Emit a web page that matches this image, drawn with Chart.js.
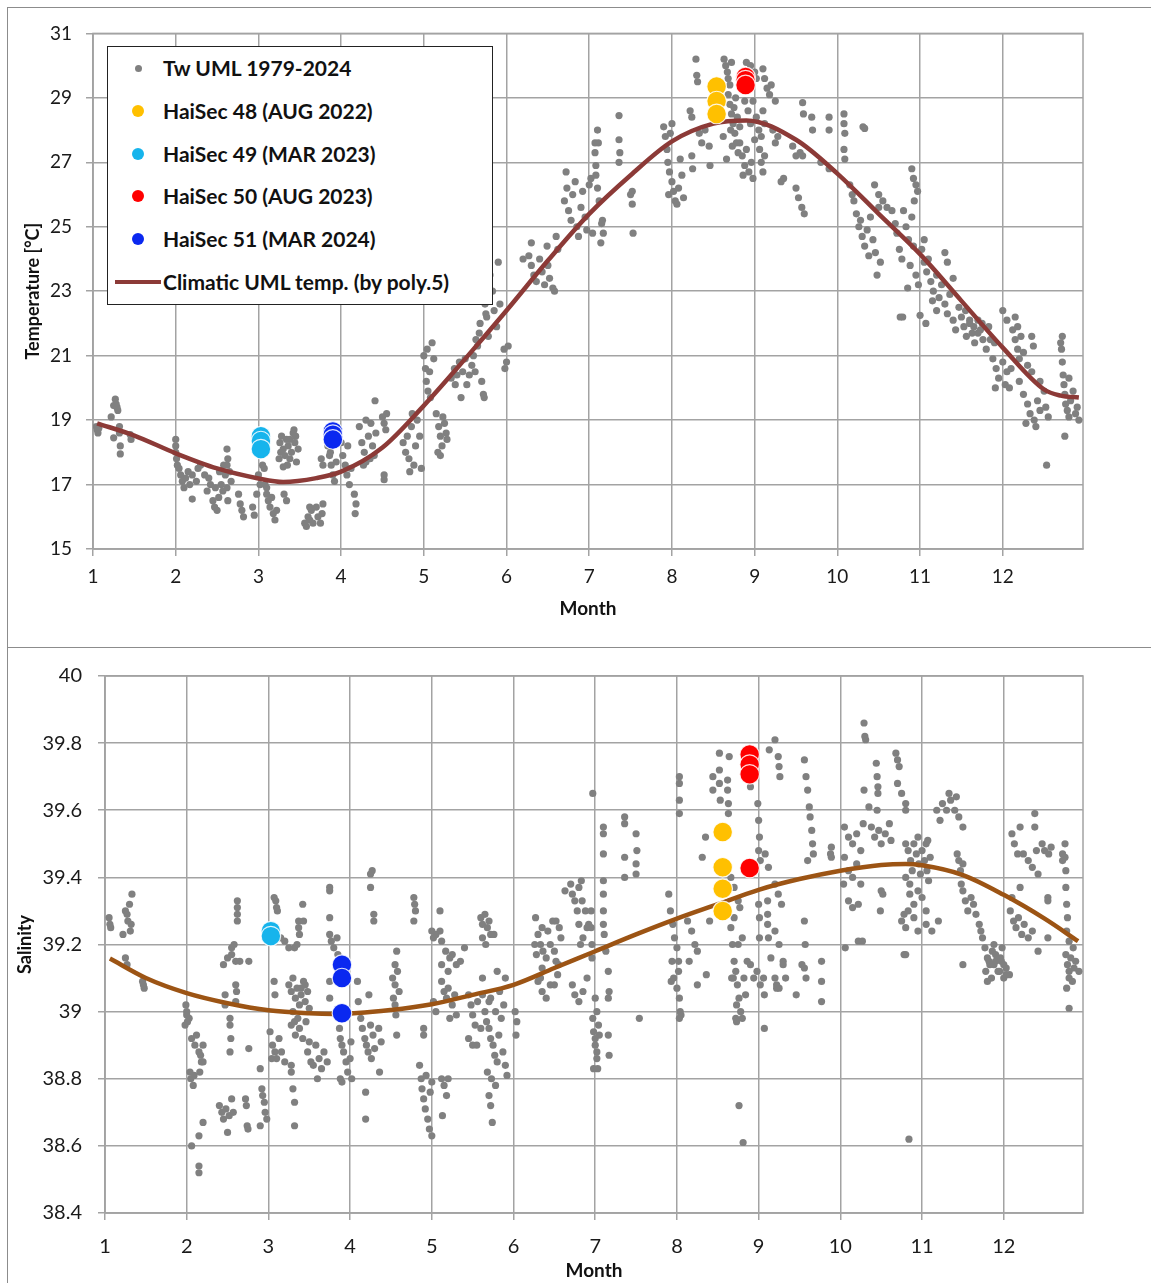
<!DOCTYPE html>
<html>
<head>
<meta charset="utf-8">
<script src="https://cdn.jsdelivr.net/npm/chart.js@4.4.1/dist/chart.umd.min.js"></script>
<style>
  body { margin: 0; background: #fff; width: 1151px; height: 1283px; overflow: hidden; position: relative; font-family: Lato, "Noto Sans", sans-serif; }
  .panel { position: absolute; left: 7px; width: 1160px; border: 1px solid #8c8c8c; box-sizing: border-box; }
  #panelTemp { top: 7px; height: 641px; }
  #panelSal { top: 647px; height: 700px; }
  .panel canvas { position: absolute; left: 0; top: 0; }
  #legend { position: absolute; left: 107px; top: 46px; width: 386px; height: 259px; border: 1.5px solid #222; box-sizing: border-box; background: #fff; }
  .item { position: absolute; left: 0; height: 26px; width: 380px; }
  .item span { position: absolute; left: 55px; top: 0; font: bold 21px Lato, sans-serif; color: #111; line-height: 26px; white-space: nowrap; }
  .dot { position: absolute; border-radius: 50%; }
  .bar { position: absolute; left: 7px; top: 11px; width: 46px; height: 4px; }
</style>
</head>
<body>
<div class="panel" id="panelTemp"><canvas id="tempChart" width="1143" height="639"></canvas></div>
<div class="panel" id="panelSal"><canvas id="salChart" width="1143" height="635"></canvas></div>
<div id="legend"></div>
<script>
// Tw UML 1979-2024, [month, temperature]
const tw1 = [[1.04,18.8],[1.05,18.7],[1.06,18.6],[1.07,18.75],[1.22,19.1],[1.25,19.45],[1.27,19.65],[1.28,19.5],[1.29,19.4],[1.3,19.3],[1.25,18.45],[1.32,18.8],[1.32,18.6],[1.33,18.2],[1.33,17.95],[1.45,18.55],[1.46,18.4]];
const tw2 = [[2.0,18.4],[2.0,18.2],[2.0,18.0],[2.01,17.8],[2.02,17.6],[2.04,17.5],[2.06,17.3],[2.08,17.1],[2.1,16.9],[2.12,17.2],[2.15,17.4],[2.17,17.0],[2.2,17.3],[2.2,16.55],[2.25,17.1],[2.27,17.5],[2.3,17.6],[2.4,17.2],[2.42,17.0],[2.45,16.5],[2.47,16.3],[2.5,16.2],[2.52,16.6],[2.55,17.0],[2.57,16.8],[2.6,17.3],[2.62,16.9],[2.63,16.5],[2.65,17.4],[2.67,17.1],[2.58,17.6],[2.53,17.4],[2.62,17.6],[2.63,17.8],[2.62,18.1],[2.76,16.7],[2.78,16.4],[2.8,16.2],[2.82,16.0],[2.93,16.3],[2.95,16.05],[2.48,16.9],[2.35,17.3],[2.38,16.8]];
const tw3 = [[3.0,17.3],[3.02,17.0],[2.98,16.7],[3.05,17.6],[3.07,17.5],[3.08,17.0],[3.1,16.7],[3.12,16.5],[3.14,16.3],[3.16,16.6],[3.18,16.1],[3.2,15.9],[3.22,16.2],[3.1,16.9],[3.26,18.3],[3.28,18.5],[3.3,18.1],[3.32,17.9],[3.34,18.4],[3.36,18.2],[3.38,17.8],[3.4,18.0],[3.42,18.6],[3.44,18.3],[3.46,17.7],[3.48,18.1],[3.35,17.6],[3.25,17.8],[3.3,17.55],[3.43,18.7],[3.31,16.7],[3.34,16.5],[3.56,15.8],[3.58,15.7],[3.6,16.0],[3.62,15.9],[3.64,16.2],[3.66,15.8],[3.7,16.3],[3.72,16.0],[3.75,15.8],[3.77,16.1],[3.62,16.3],[3.78,16.4],[3.76,17.8],[3.78,17.6],[3.84,18.2],[3.86,17.9],[3.88,17.6],[3.9,17.3],[3.92,17.1],[3.94,17.7],[3.87,18.0],[3.38,18.4],[3.45,18.5],[3.27,18.0]];
const tw4 = [[4.0,18.3],[4.02,17.9],[4.05,17.6],[4.07,17.3],[4.1,17.0],[4.08,18.2],[4.16,16.7],[4.18,16.4],[4.17,16.1],[4.22,18.8],[4.25,18.3],[4.28,18.0],[4.3,17.7],[4.33,18.5],[4.36,18.9],[4.38,18.2],[4.4,17.9],[4.42,18.6],[4.3,19.0],[4.35,17.8],[4.41,19.6],[4.5,19.1],[4.52,18.9],[4.55,19.2],[4.54,18.7],[4.52,17.3],[4.52,17.15],[4.75,18.3],[4.78,18.0],[4.8,18.5],[4.82,17.8],[4.85,18.8],[4.88,17.6],[4.9,18.2],[4.92,19.0],[4.95,18.5],[4.97,17.5],[4.86,19.2],[4.83,17.4],[4.12,17.5],[4.27,17.6]];
const tw5 = [[5.0,21.0],[5.02,20.6],[5.03,20.2],[5.05,19.9],[5.07,20.5],[5.1,21.4],[5.12,20.9],[5.08,19.7],[5.04,21.2],[5.15,19.2],[5.18,18.8],[5.2,18.5],[5.22,18.2],[5.25,18.9],[5.27,18.6],[5.17,18.0],[5.23,19.1],[5.28,18.4],[5.2,17.9],[5.33,20.3],[5.37,20.6],[5.4,20.4],[5.43,20.8],[5.47,20.5],[5.5,20.9],[5.45,19.7],[5.38,20.1],[5.55,20.4],[5.58,20.7],[5.6,21.0],[5.62,20.5],[5.65,21.3],[5.67,21.7],[5.7,20.2],[5.72,19.8],[5.73,19.7],[5.68,22.0],[5.75,22.3],[5.63,21.5],[5.7,23.2],[5.72,22.8],[5.74,22.6],[5.76,22.2],[5.8,23.5],[5.83,23.0],[5.85,22.4],[5.88,21.9],[5.9,23.9],[5.92,22.6],[5.97,21.2],[6.0,20.8],[6.02,21.3],[5.98,20.6],[5.52,20.1],[5.78,21.6]];
const tw6 = [[6.27,24.1],[6.3,23.8],[6.33,23.5],[6.36,23.3],[6.4,24.0],[6.43,23.6],[6.46,23.2],[6.5,23.8],[6.52,23.4],[6.56,23.1],[6.3,24.5],[6.58,23.0],[6.49,24.4],[6.7,25.8],[6.73,26.2],[6.75,25.5],[6.78,25.2],[6.8,26.0],[6.83,26.4],[6.85,25.0],[6.87,24.7],[6.9,25.6],[6.92,26.1],[6.95,25.3],[6.97,24.9],[6.72,26.7],[6.6,24.7],[6.62,24.3],[6.2,24.0]];
const tw7 = [[7.0,26.3],[7.02,26.5],[7.04,24.8],[7.07,27.6],[7.07,27.3],[7.08,26.9],[7.08,26.6],[7.1,26.2],[7.12,25.8],[7.15,25.1],[7.14,24.5],[7.1,28.0],[7.11,27.6],[7.16,25.2],[7.17,24.8],[7.36,28.45],[7.36,27.7],[7.37,27.3],[7.36,27.0],[7.5,26.0],[7.52,25.7],[7.53,24.8],[7.52,26.1],[7.9,28.1],[7.92,27.8],[7.94,27.4],[7.95,27.0],[7.97,26.7],[7.96,26.0]];
const tw8 = [[8.0,26.4],[8.02,26.1],[8.04,25.8],[8.06,25.7],[8.08,26.2],[8.1,27.1],[7.98,27.9],[8.12,26.6],[8.0,28.2],[8.14,25.9],[8.22,28.6],[8.24,28.4],[8.24,27.2],[8.25,26.8],[8.33,27.9],[8.36,27.6],[8.4,28.0],[8.45,27.5],[8.29,30.2],[8.3,29.7],[8.31,29.5],[8.46,26.9],[8.63,30.2],[8.65,30.0],[8.67,29.8],[8.68,29.6],[8.7,29.4],[8.72,30.1],[8.68,29.1],[8.7,28.8],[8.72,28.5],[8.74,28.2],[8.76,27.9],[8.78,27.6],[8.8,27.3],[8.71,28.0],[8.75,28.7],[8.79,28.4],[8.73,27.5],[8.77,29.0],[8.82,27.6],[8.85,27.2],[8.88,26.9],[8.9,27.4],[8.93,26.7],[8.96,27.0],[8.98,26.5],[8.86,26.6],[8.9,30.1],[8.95,30.0],[8.88,28.9],[8.92,28.6],[8.95,28.2],[8.98,28.9],[8.6,28.3],[8.62,27.8],[8.66,27.1],[8.82,28.1]];
const tw9 = [[9.0,29.8],[9.02,29.6],[9.02,28.4],[9.05,28.0],[9.08,27.8],[9.1,28.6],[9.12,28.2],[9.0,27.7],[9.1,29.9],[9.12,29.6],[9.15,29.3],[9.18,29.1],[9.2,29.4],[9.25,28.9],[9.06,27.4],[9.08,27.0],[9.1,26.7],[9.12,27.2],[9.22,28.0],[9.25,27.6],[9.28,27.8],[9.32,26.4],[9.35,26.5],[9.46,27.5],[9.5,27.2],[9.55,27.3],[9.5,26.2],[9.53,25.9],[9.57,25.6],[9.6,25.4],[9.58,28.85],[9.59,28.5],[9.58,27.2],[9.69,28.4],[9.7,28.0],[9.8,27.0],[9.9,26.8],[9.9,28.4],[9.9,28.0]];
const tw10 = [[10.08,28.5],[10.08,28.2],[10.09,27.9],[10.08,27.4],[10.09,27.1],[10.31,28.1],[10.33,28.05],[10.15,26.3],[10.18,26.0],[10.2,25.8],[10.23,25.4],[10.26,25.0],[10.3,24.7],[10.33,24.4],[10.36,24.9],[10.4,25.3],[10.43,24.6],[10.46,24.2],[10.5,25.6],[10.28,25.2],[10.38,24.1],[10.45,26.3],[10.5,26.0],[10.55,25.8],[10.6,25.6],[10.66,25.5],[10.48,23.5],[10.52,23.9],[10.72,24.8],[10.75,24.3],[10.78,24.0],[10.8,25.5],[10.83,25.0],[10.86,24.6],[10.88,23.8],[10.9,25.3],[10.92,24.4],[10.95,23.5],[10.98,23.2],[10.85,23.1],[10.7,25.1],[10.93,25.8],[10.9,26.8],[10.92,26.5],[10.95,26.3],[10.97,26.1],[10.76,22.2],[10.79,22.2]];
const tw11 = [[11.0,22.25],[11.07,22.0],[11.02,24.3],[11.05,23.9],[11.08,23.6],[11.1,24.0],[11.13,23.3],[11.16,23.0],[11.2,23.5],[11.23,22.8],[11.26,23.2],[11.3,22.6],[11.33,22.3],[11.36,22.9],[11.4,22.1],[11.43,21.8],[11.05,24.6],[11.15,22.7],[11.3,24.2],[11.33,23.9],[11.47,22.5],[11.5,22.2],[11.53,21.9],[11.56,21.6],[11.6,22.0],[11.63,21.7],[11.66,21.4],[11.7,22.1],[11.73,21.8],[11.76,21.5],[11.8,21.2],[11.83,21.9],[11.55,22.4],[11.6,22.1],[11.65,21.9],[11.7,21.7],[11.75,22.0],[11.85,21.5],[11.9,21.4],[11.88,20.9],[11.92,20.6],[11.95,20.3],[11.91,20.0],[11.4,23.4],[11.2,22.4]];
const tw12 = [[12.0,20.8],[12.03,20.1],[12.05,20.5],[12.08,20.0],[12.0,22.4],[12.05,22.1],[12.15,22.2],[12.18,21.9],[12.12,21.8],[12.15,21.5],[12.18,21.2],[12.2,20.9],[12.25,21.1],[12.3,20.7],[12.35,20.5],[12.22,21.6],[12.37,21.3],[12.35,21.6],[12.2,20.2],[12.25,19.8],[12.3,19.5],[12.33,19.2],[12.38,19.0],[12.42,19.6],[12.45,19.3],[12.5,19.9],[12.52,19.4],[12.55,19.1],[12.28,18.9],[12.4,18.8],[12.53,17.6],[12.7,21.4],[12.71,21.2],[12.72,20.8],[12.73,20.4],[12.74,20.1],[12.75,19.8],[12.76,19.5],[12.78,19.3],[12.8,19.1],[12.82,19.6],[12.85,19.9],[12.88,19.2],[12.9,19.4],[12.92,19.0],[12.8,20.3],[12.75,18.5],[12.72,21.6],[12.45,20.2],[12.1,20.6]];

// Salinity UML, [month, salinity]
const sal1 = [[1.05,39.28],[1.06,39.26],[1.07,39.25],[1.22,39.23],[1.25,39.3],[1.28,39.27],[1.3,39.32],[1.33,39.35],[1.32,39.26],[1.27,39.29],[1.31,39.24],[1.25,39.16],[1.27,39.14],[1.46,39.09],[1.47,39.08],[1.48,39.07]];
const sal2 = [[1.99,39.02],[2.0,39.0],[2.0,38.99],[2.01,38.97],[1.98,38.96],[2.03,38.98],[2.06,38.92],[2.1,38.9],[2.12,38.93],[2.15,38.88],[2.18,38.85],[2.05,38.8],[2.08,38.78],[2.04,38.82],[2.2,38.9],[2.17,38.87],[2.09,38.81],[2.06,38.6],[2.15,38.63],[2.2,38.67],[2.15,38.54],[2.15,38.52],[2.4,38.72],[2.43,38.7],[2.45,38.68],[2.48,38.71],[2.5,38.64],[2.55,38.74],[2.57,38.7],[2.52,38.69],[2.53,38.98],[2.53,38.96],[2.54,38.92],[2.53,38.88],[2.6,39.08],[2.61,39.06],[2.6,39.03],[2.72,38.74],[2.73,38.72],[2.74,38.66],[2.75,38.65],[2.76,38.89],[2.9,38.83],[2.92,38.77],[2.93,38.75],[2.95,38.73],[2.96,38.7],[2.98,38.68],[2.9,38.66],[2.45,39.14],[2.5,39.16],[2.55,39.17],[2.6,39.15],[2.65,39.15],[2.55,39.19],[2.58,39.2],[2.62,39.33],[2.62,39.31],[2.62,39.29],[2.62,39.27],[2.47,39.05],[2.47,39.02],[2.76,39.15],[2.16,38.82],[2.2,38.85]];
const sal3 = [[3.02,38.94],[3.05,38.9],[3.08,38.88],[3.1,38.86],[3.13,38.92],[3.16,38.88],[3.2,38.85],[3.04,38.86],[3.07,39.09],[3.08,39.05],[3.25,39.08],[3.28,39.06],[3.3,39.1],[3.33,39.04],[3.35,39.07],[3.38,39.02],[3.4,39.05],[3.43,39.09],[3.45,39.03],[3.48,39.06],[3.5,39.01],[3.36,38.98],[3.32,38.97],[3.28,38.96],[3.33,38.93],[3.38,38.95],[3.42,38.92],[3.46,38.97],[3.28,38.84],[3.28,38.82],[3.3,38.77],[3.32,38.73],[3.32,38.66],[3.48,38.88],[3.52,38.85],[3.55,38.84],[3.58,38.9],[3.62,38.86],[3.65,38.83],[3.68,38.88],[3.72,38.85],[3.5,38.91],[3.6,38.8],[3.75,39.09],[3.75,39.04],[3.07,39.34],[3.09,39.33],[3.1,39.31],[3.11,39.3],[3.15,39.22],[3.2,39.21],[3.25,39.19],[3.32,39.19],[3.35,39.2],[3.37,39.27],[3.37,39.25],[3.38,39.23],[3.42,39.32],[3.43,39.27],[3.75,39.37],[3.75,39.36],[3.75,39.28],[3.75,39.23],[3.77,39.21],[3.8,39.19],[3.84,39.22],[3.85,39.17],[3.87,38.95],[3.88,38.92],[3.9,38.9],[3.92,38.88],[3.95,38.85],[3.97,38.82],[3.88,38.8],[3.9,38.79],[3.3,39.0],[3.45,39.08],[3.4,39.07]];
const sal4 = [[4.0,38.86],[4.02,38.8],[4.01,38.91],[4.1,39.03],[4.13,38.98],[4.15,38.95],[4.18,38.92],[4.2,38.9],[4.25,38.96],[4.28,38.93],[4.3,38.89],[4.35,38.95],[4.38,38.91],[4.22,38.88],[4.19,38.76],[4.19,38.68],[4.26,38.86],[4.36,38.82],[4.09,39.09],[4.23,39.05],[4.25,39.41],[4.27,39.42],[4.25,39.37],[4.29,39.29],[4.29,39.27],[4.52,39.1],[4.55,39.08],[4.58,39.12],[4.6,39.06],[4.55,39.02],[4.56,38.99],[4.57,38.93],[4.57,39.18],[4.55,39.14],[4.78,39.34],[4.79,39.32],[4.8,39.3],[4.78,39.27],[4.85,38.84],[4.87,38.8],[4.88,38.77],[4.9,38.74],[4.92,38.71],[4.95,38.68],[4.97,38.65],[4.93,38.81],[4.98,38.76],[4.9,38.95],[4.9,38.93],[4.53,39.04]];
const sal5 = [[5.0,38.63],[5.0,38.79],[5.12,38.8],[5.15,38.78],[5.2,38.8],[5.18,38.75],[5.13,38.69],[5.02,39.03],[5.05,39.0],[5.12,39.09],[5.15,39.06],[5.18,39.04],[5.2,39.07],[5.25,39.02],[5.28,39.05],[5.3,38.99],[5.22,38.98],[5.45,39.05],[5.48,39.02],[5.5,38.99],[5.53,38.96],[5.56,39.03],[5.6,38.95],[5.45,38.92],[5.5,38.9],[5.55,38.9],[5.0,39.24],[5.02,39.22],[5.05,39.23],[5.1,39.24],[5.12,39.21],[5.1,39.3],[5.17,39.18],[5.22,39.16],[5.25,39.17],[5.3,39.14],[5.35,39.15],[5.4,39.19],[5.2,39.12],[5.12,39.14],[5.6,39.28],[5.62,39.26],[5.65,39.29],[5.68,39.25],[5.7,39.27],[5.72,39.23],[5.62,39.22],[5.66,39.2],[5.76,39.23],[5.62,39.05],[5.65,39.0],[5.67,38.97],[5.7,38.95],[5.72,38.92],[5.75,38.9],[5.77,38.87],[5.8,38.85],[5.82,38.93],[5.85,38.98],[5.87,38.88],[5.9,38.84],[5.92,38.81],[5.68,38.82],[5.73,38.8],[5.78,38.78],[5.7,39.03],[5.88,39.02],[5.83,39.06],[5.7,38.75],[5.72,38.72],[5.74,38.67],[5.62,39.1],[5.72,39.04],[5.78,39.0],[5.8,39.12],[5.9,39.1]];
const sal6 = [[6.02,39.0],[6.04,38.97],[6.03,38.93],[6.3,39.09],[6.35,39.06],[6.4,39.04],[6.45,39.08],[6.3,39.23],[6.33,39.2],[6.36,39.18],[6.4,39.16],[6.45,39.2],[6.5,39.18],[6.55,39.14],[6.35,39.13],[6.48,39.27],[6.52,39.27],[6.56,39.25],[6.63,39.36],[6.26,39.2],[6.28,39.17],[6.33,39.1],[6.5,39.08],[6.58,39.22],[6.35,39.25],[6.27,39.28],[6.42,39.24],[6.52,39.15],[6.54,39.11],[6.7,39.38],[6.72,39.35],[6.75,39.33],[6.78,39.3],[6.8,39.26],[6.85,39.22],[6.88,39.3],[6.9,39.25],[6.83,39.39],[6.8,39.37],[6.84,39.33],[6.92,39.26],[6.82,39.2],[6.72,39.08],[6.75,39.05],[6.8,39.03],[6.85,39.06],[6.9,39.1],[6.97,39.65],[6.95,39.3],[6.95,39.25],[6.96,39.2],[6.96,39.16],[6.97,38.98],[6.98,38.94],[6.98,38.83]];
const sal7 = [[7.0,38.9],[7.02,38.88],[7.0,39.04],[7.02,39.0],[7.04,38.96],[7.05,38.93],[7.0,38.92],[7.02,38.86],[7.03,38.83],[7.16,39.12],[7.17,39.06],[7.16,39.04],[7.16,38.93],[7.17,38.87],[7.54,38.98],[7.1,39.55],[7.1,39.53],[7.1,39.47],[7.1,39.39],[7.1,39.35],[7.1,39.3],[7.1,39.26],[7.11,39.23],[7.13,39.18],[7.36,39.58],[7.36,39.56],[7.36,39.46],[7.36,39.4],[7.5,39.53],[7.51,39.48],[7.5,39.44],[7.5,39.41],[7.94,39.15],[7.96,39.1],[7.9,39.35],[7.92,39.3],[7.95,39.26],[7.97,39.22],[7.93,39.09]];
const sal8 = [[8.0,39.07],[8.02,39.12],[8.03,39.04],[8.04,39.0],[8.05,38.99],[8.03,38.98],[8.0,39.19],[8.02,39.15],[8.03,39.7],[8.03,39.68],[8.03,39.63],[8.03,39.59],[8.15,39.15],[8.13,39.27],[8.18,39.24],[8.22,39.2],[8.25,39.18],[8.25,39.08],[8.36,39.11],[8.31,39.46],[8.35,39.52],[8.4,39.27],[8.44,39.7],[8.44,39.66],[8.52,39.77],[8.52,39.72],[8.52,39.68],[8.53,39.63],[8.62,39.69],[8.62,39.66],[8.63,39.62],[8.63,39.59],[8.64,39.76],[8.66,39.4],[8.7,39.37],[8.75,39.33],[8.77,39.31],[8.66,39.25],[8.68,39.2],[8.7,39.15],[8.72,39.12],[8.74,39.08],[8.76,39.04],[8.78,39.0],[8.8,38.98],[8.82,39.1],[8.84,39.05],[8.86,39.15],[8.7,39.28],[8.75,39.2],[8.8,39.22],[8.69,39.1],[8.73,39.02],[8.67,39.1],[8.72,38.98],[8.73,38.97],[8.76,38.72],[8.81,38.61],[8.9,39.14],[8.94,39.1],[8.98,39.12],[8.9,39.67]];
const sal9 = [[9.02,39.08],[9.06,39.1],[9.07,39.05],[9.07,38.95],[9.15,39.16],[9.2,39.1],[9.22,39.08],[9.25,39.07],[9.3,39.14],[9.46,39.05],[9.53,39.14],[9.58,39.1],[9.77,39.15],[9.77,39.09],[9.77,39.03],[8.99,39.62],[9.0,39.57],[9.01,39.52],[9.0,39.48],[9.02,39.45],[9.0,39.32],[9.01,39.28],[9.01,39.22],[9.08,39.47],[9.12,39.43],[9.11,39.33],[9.11,39.29],[9.11,39.26],[9.12,39.22],[9.13,39.78],[9.2,39.81],[9.24,39.76],[9.25,39.73],[9.26,39.7],[9.2,39.38],[9.24,39.35],[9.28,39.32],[9.2,39.24],[9.25,39.2],[9.3,39.15],[9.33,39.1],[9.22,39.07],[9.56,39.75],[9.58,39.7],[9.6,39.66],[9.62,39.61],[9.63,39.58],[9.65,39.54],[9.66,39.5],[9.67,39.47],[9.6,39.45],[9.56,39.27],[9.57,39.2],[9.56,39.13],[9.89,39.49],[9.89,39.46],[9.88,39.47]];
const sal10 = [[10.29,39.86],[10.3,39.82],[10.31,39.81],[10.44,39.74],[10.45,39.7],[10.46,39.67],[10.46,39.65],[10.29,39.66],[10.35,39.61],[10.45,39.6],[10.05,39.55],[10.1,39.52],[10.15,39.5],[10.2,39.53],[10.25,39.48],[10.28,39.56],[10.38,39.55],[10.42,39.52],[10.47,39.54],[10.5,39.5],[10.55,39.53],[10.6,39.56],[10.62,39.51],[10.05,39.46],[10.1,39.42],[10.15,39.4],[10.2,39.44],[10.25,39.38],[10.04,39.38],[10.1,39.33],[10.15,39.31],[10.22,39.32],[10.5,39.36],[10.52,39.35],[10.49,39.3],[10.22,39.21],[10.27,39.21],[10.06,39.19],[10.68,39.77],[10.7,39.75],[10.72,39.73],[10.7,39.68],[10.75,39.65],[10.8,39.6],[10.8,39.62],[10.8,39.5],[10.83,39.48],[10.86,39.45],[10.88,39.42],[10.9,39.5],[10.93,39.47],[10.96,39.44],[10.98,39.41],[10.85,39.38],[10.95,39.52],[10.8,39.4],[10.85,39.35],[10.9,39.32],[10.95,39.36],[10.83,39.3],[10.75,39.27],[10.8,39.25],[10.9,39.28],[10.95,39.24],[10.78,39.29],[10.78,39.17],[10.8,39.17],[10.84,38.62]];
const sal11 = [[11.0,39.48],[11.03,39.45],[11.06,39.42],[11.08,39.39],[11.1,39.46],[11.05,39.5],[11.0,39.34],[11.05,39.3],[11.05,39.26],[11.12,39.24],[11.2,39.27],[11.07,39.51],[11.18,39.6],[11.22,39.57],[11.25,39.62],[11.3,39.6],[11.35,39.63],[11.4,39.6],[11.45,39.58],[11.5,39.55],[11.42,39.64],[11.33,39.65],[11.43,39.47],[11.45,39.45],[11.47,39.42],[11.5,39.44],[11.48,39.38],[11.5,39.36],[11.53,39.33],[11.56,39.3],[11.6,39.34],[11.63,39.32],[11.66,39.29],[11.7,39.26],[11.72,39.24],[11.5,39.14],[11.74,39.22],[11.77,39.19],[11.8,39.16],[11.83,39.14],[11.86,39.18],[11.9,39.15],[11.93,39.12],[11.96,39.16],[11.88,39.2],[11.98,39.19],[11.78,39.12],[11.82,39.15],[11.85,39.1],[11.88,39.14],[11.9,39.17],[11.95,39.12],[11.97,39.15],[11.8,39.09]];
const sal12 = [[12.0,39.14],[12.03,39.11],[12.0,39.1],[12.03,39.13],[12.07,39.11],[12.08,39.3],[12.12,39.27],[12.15,39.25],[12.18,39.28],[12.22,39.23],[12.25,39.26],[12.3,39.22],[12.35,39.24],[12.1,39.34],[12.2,39.37],[12.1,39.53],[12.13,39.5],[12.17,39.47],[12.2,39.55],[12.24,39.47],[12.3,39.45],[12.35,39.43],[12.4,39.48],[12.38,39.59],[12.38,39.55],[12.47,39.5],[12.5,39.48],[12.55,39.47],[12.58,39.49],[12.42,39.41],[12.54,39.34],[12.54,39.33],[12.42,39.18],[12.54,39.22],[12.75,39.5],[12.75,39.46],[12.76,39.42],[12.76,39.37],[12.77,39.32],[12.78,39.28],[12.77,39.24],[12.76,39.17],[12.78,39.14],[12.8,39.12],[12.82,39.16],[12.86,39.13],[12.88,39.15],[12.92,39.12],[12.8,39.1],[12.84,39.09],[12.77,39.07],[12.8,39.01],[12.72,39.47],[12.72,39.45],[12.8,39.21],[12.85,39.19]];

// HaiSec cruises
const hs48Temp = [[8.54,29.35],[8.54,28.9],[8.54,28.5]];
const hs49Temp = [[3.03,18.5],[3.03,18.35],[3.03,18.1]];
const hs50Temp = [[8.89,29.65],[8.89,29.55],[8.89,29.4]];
const hs51Temp = [[3.9,18.65],[3.9,18.55],[3.9,18.4]];
const hs48Sal = [[8.56,39.535],[8.56,39.43],[8.56,39.366],[8.56,39.3]];
const hs49Sal = [[3.03,39.24],[3.03,39.225]];
const hs50Sal = [[8.89,39.766],[8.89,39.736],[8.89,39.707],[8.89,39.428]];
const hs51Sal = [[3.9,39.14],[3.9,39.1],[3.9,38.995]];

// climatic curves (poly.5)
const climMonths = [1.05,1.5,2,2.5,3,3.3,3.7,4,4.5,5,5.5,6,6.5,7,7.5,8,8.5,8.9,9.5,10,10.5,11,11.5,12,12.5,12.7,12.92];
const climTemp = [18.9,18.52,17.97,17.5,17.19,17.08,17.2,17.4,18.15,19.45,20.9,22.4,23.95,25.4,26.6,27.65,28.2,28.3,27.7,26.65,25.4,24.15,22.7,21.25,19.95,19.76,19.7];
const salCurveMonths = [1.06,1.5,2,2.5,3,3.5,3.8,4.5,5,5.5,6,6.5,7,7.5,8,8.5,9,9.5,10,10.5,10.8,11,11.5,12,12.5,12.91];
const salCurve = [39.158,39.1,39.055,39.025,39.004,38.995,38.993,39.005,39.022,39.05,39.08,39.13,39.18,39.23,39.277,39.32,39.363,39.395,39.42,39.437,39.44,39.436,39.407,39.348,39.277,39.21];

const cruiseNames = ['HaiSec 48 (AUG 2022)', 'HaiSec 49 (MAR 2023)', 'HaiSec 50 (AUG 2023)', 'HaiSec 51 (MAR 2024)'];
const cruiseColors = ['#FFC000', '#16B4EC', '#FF0000', '#0A28F0'];

const FONT = 'Lato, "Noto Sans", sans-serif';
const GRID = '#a3a3a3';
const TICK = '#1a1a1a';
const XMAX = 12.97;

const pts = arr => arr.map(p => ({x: p[0], y: p[1]}));
const line = (xs, ys) => xs.map((x, i) => ({x: x, y: ys[i]}));

const plotFrame = {
  id: 'plotFrame',
  beforeDatasetsDraw(chart) {
    const {ctx, chartArea: a} = chart;
    ctx.save();
    ctx.strokeStyle = GRID;
    ctx.lineWidth = 1.5;
    ctx.strokeRect(a.left, a.top, a.right - a.left, a.bottom - a.top);
    ctx.restore();
  }
};

function buildChart(id, cfg) {
  const datasets = [
    {
      label: cfg.grayLabel,
      data: pts(cfg.gray),
      backgroundColor: '#808080',
      borderWidth: 0,
      pointRadius: 3.6,
      order: 3
    },
    {
      type: 'line',
      label: cfg.curveLabel,
      data: cfg.curve,
      borderColor: cfg.curveColor,
      borderWidth: 4.5,
      pointRadius: 0,
      cubicInterpolationMode: 'monotone',
      fill: false,
      order: 2
    }
  ];
  cfg.cruises.forEach((c, i) => {
    datasets.push({
      label: cruiseNames[i],
      data: pts(c),
      backgroundColor: cruiseColors[i],
      borderColor: 'rgba(255,255,255,0.85)',
      borderWidth: 1.2,
      pointRadius: 9.8,
      order: 1
    });
  });

  return new Chart(document.getElementById(id), {
    type: 'scatter',
    data: { datasets: datasets },
    options: {
      responsive: false,
      animation: false,
      layout: { padding: cfg.padding },
      plugins: { legend: { display: false }, tooltip: { enabled: false } },
      scales: {
        x: {
          type: 'linear', min: 1, max: XMAX,
          afterFit: s => { s.height = cfg.xHeight; },
          ticks: { stepSize: 1, includeBounds: false, padding: cfg.xTickPad, color: TICK, font: { family: FONT, size: cfg.tickSize } },
          grid: { color: GRID, lineWidth: 1.5, tickLength: 7, tickColor: GRID },
          border: { color: GRID, width: 1.5 },
          title: { display: true, text: 'Month', color: '#111', font: { family: FONT, size: 19, weight: 'bold' }, padding: { top: 0, bottom: cfg.xTitlePad } }
        },
        y: {
          min: cfg.yMin, max: cfg.yMax,
          afterFit: s => { s.width = cfg.yWidth; },
          ticks: {
            stepSize: cfg.yStep, padding: cfg.yTickPad, color: TICK, font: { family: FONT, size: cfg.tickSize },
            callback: v => String(Number(v.toFixed(1)))
          },
          grid: { color: GRID, lineWidth: 1.5, tickLength: 7, tickColor: GRID },
          border: { color: GRID, width: 1.5 },
          title: { display: true, text: cfg.yTitle, color: '#111', font: { family: FONT, size: 18, weight: 'bold' }, padding: { top: cfg.yTitlePad, bottom: 0 } }
        }
      }
    },
    plugins: [plotFrame]
  });
}

buildChart('tempChart', {
  gray: [...tw1, ...tw2, ...tw3, ...tw4, ...tw5, ...tw6, ...tw7, ...tw8, ...tw9, ...tw10, ...tw11, ...tw12],
  grayLabel: 'Tw UML 1979-2024',
  curve: line(climMonths, climTemp),
  curveLabel: 'Climatic UML temp. (by poly.5)',
  curveColor: '#8C3A37',
  cruises: [hs48Temp, hs49Temp, hs50Temp, hs51Temp],
  yMin: 15, yMax: 31, yStep: 2,
  yTitle: 'Temperature [°C]',
  padding: { left: 0, top: 24, right: 68, bottom: 13 },
  yWidth: 85, xHeight: 85, tickSize: 19,
  xTickPad: 9, yTickPad: 14, xTitlePad: 14, yTitlePad: 14
});

buildChart('salChart', {
  gray: [...sal1, ...sal2, ...sal3, ...sal4, ...sal5, ...sal6, ...sal7, ...sal8, ...sal9, ...sal10, ...sal11, ...sal12],
  grayLabel: 'Salinity UML',
  curve: line(salCurveMonths, salCurve),
  curveLabel: 'Climatic UML salinity',
  curveColor: '#9C5414',
  cruises: [hs48Sal, hs49Sal, hs50Sal, hs51Sal],
  yMin: 38.4, yMax: 40, yStep: 0.2,
  yTitle: 'Salinity',
  padding: { left: 0, top: 25, right: 68, bottom: 0 },
  yWidth: 97, xHeight: 70, tickSize: 20,
  xTickPad: 15, yTickPad: 16, xTitlePad: 1, yTitlePad: 6
});

// legend of the temperature panel
const legendRows = [
  { text: 'Tw UML 1979-2024', kind: 'dot', color: '#808080', r: 3.5 },
  ...cruiseNames.map((n, i) => ({ text: n, kind: 'dot', color: cruiseColors[i], r: 6 })),
  { text: 'Climatic UML temp. (by poly.5)', kind: 'bar', color: '#8C3A37' }
];
const legendEl = document.getElementById('legend');
legendRows.forEach((row, i) => {
  const item = document.createElement('div');
  item.className = 'item';
  item.style.top = (8 + i * 42.8) + 'px';
  if (row.kind === 'dot') {
    const d = document.createElement('div');
    d.className = 'dot';
    d.style.width = d.style.height = (row.r * 2) + 'px';
    d.style.left = (30 - row.r) + 'px';
    d.style.top = (13 - row.r) + 'px';
    d.style.background = row.color;
    item.appendChild(d);
  } else {
    const b = document.createElement('div');
    b.className = 'bar';
    b.style.background = row.color;
    item.appendChild(b);
  }
  const s = document.createElement('span');
  s.textContent = row.text;
  item.appendChild(s);
  legendEl.appendChild(item);
});
</script>
</body>
</html>
